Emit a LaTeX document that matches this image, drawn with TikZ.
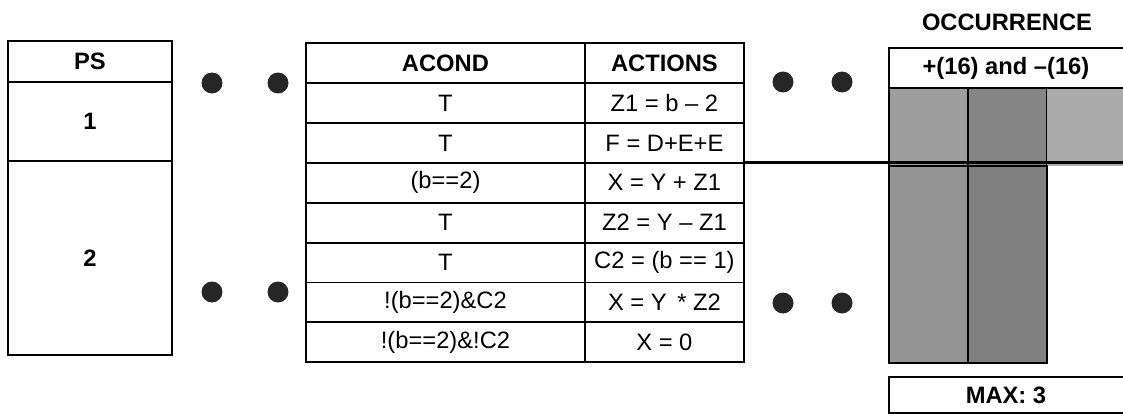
\documentclass[tikz,border=0pt]{standalone}
\usepackage{fontspec}
\setmainfont{Liberation Sans}
\usetikzlibrary{positioning}
\tikzset{
  cell/.style={draw,line width=1.1pt,inner sep=0pt,outer sep=0pt,font=\fontsize{13.5}{16}\selectfont},
  headcell/.style={cell,font=\fontsize{13.5}{16}\selectfont\bfseries},
  dot/.style={circle,fill=black!85,minimum size=4.2mm,inner sep=0pt},
  occ/.style={draw,line width=1.1pt,inner sep=0pt,outer sep=0pt,minimum width=1.58cm}
}

\begin{document}
\begin{tikzpicture}[x=0.02cm,y=-0.02cm]
  \useasboundingbox (0,0) rectangle (1123,416);
  % PS column
  \node[headcell,minimum width=3.28cm,minimum height=8.2mm,anchor=north west] (ps) at (8,41) {PS};
  \node[headcell,minimum width=3.28cm,minimum height=15.8mm,below=0pt of ps] (ps1) {1};
  \node[headcell,minimum width=3.28cm,minimum height=38.8mm,below=0pt of ps1] (ps2) {2};
  \node[dot] (dl1) at (212,83) {};
  \node[dot] (dl2) at (278,83) {};
  \node[dot] (dl3) at (212,292) {};
  \node[dot] (dl4) at (278,292) {};
  % condition / action table
  \node[headcell,minimum width=5.58cm,minimum height=8mm,anchor=north west] (acond) at (306,43) {ACOND};
  \node[headcell,minimum width=3.18cm,minimum height=8mm,right=0pt of acond] (actions) {ACTIONS};
  \foreach \cond/\act [count=\i] in {T/{Z1 = b – 2}, T/{F = D+E+E}, (b==2)/{X = Y + Z1},
      T/{Z2 = Y – Z1}, T/{C2 = (b == 1)}, {!(b==2)\&C2}/{X = Y \,* Z2}, {!(b==2)\&!C2}/{X = 0}}{
    \node[cell,minimum width=5.58cm,minimum height=7.98mm,anchor=north west] (c\i) at (306,{83+39.9*(\i-1)}) {\cond};
    \node[cell,minimum width=3.18cm,minimum height=7.98mm,right=0pt of c\i] (a\i) {\act};
  }
  \node[dot] (dr1) at (783,82) {};
  \node[dot] (dr2) at (842,82) {};
  \node[dot] (dr3) at (783,303) {};
  \node[dot] (dr4) at (842,303) {};
  % occurrence block
  \node[font=\fontsize{13.5}{16}\selectfont\bfseries] (occtitle) at (1007,22) {OCCURRENCE};
  \node[occ,fill=black!38,minimum height=1.56cm,anchor=north west] (o1) at (889,88) {};
  \node[occ,fill=black!48,minimum height=1.56cm,right=0pt of o1] (o2) {};
  \node[occ,draw=none,fill=black!33,minimum width=1.52cm,minimum height=1.56cm,right=0pt of o2] (o3) {};
  \node[occ,fill=black!42,minimum height=3.94cm,below=0pt of o1] (l1) {};
  \node[occ,fill=black!50,minimum height=3.94cm,below=0pt of o2] (l2) {};
  \node[headcell,draw=none,minimum width=4.68cm,minimum height=8mm,anchor=north west] (range) at (889,48) {+(16) and –(16)};
  \draw[line width=1.1pt] (range.north east) -- (range.north west) -- (range.south west) -- (range.south east);
  \node[headcell,draw=none,minimum width=4.68cm,minimum height=7.2mm,anchor=north west] (max) at (889,377) {MAX: 3};
  \draw[line width=1.1pt] (max.north east) -- (max.north west) -- (max.south west) -- (max.south east);
  \coordinate (edge) at (1123,165);
  \draw[line width=1.5pt] (a3.north east) -- (a3.north east -| edge);
\end{tikzpicture}
\end{document}
